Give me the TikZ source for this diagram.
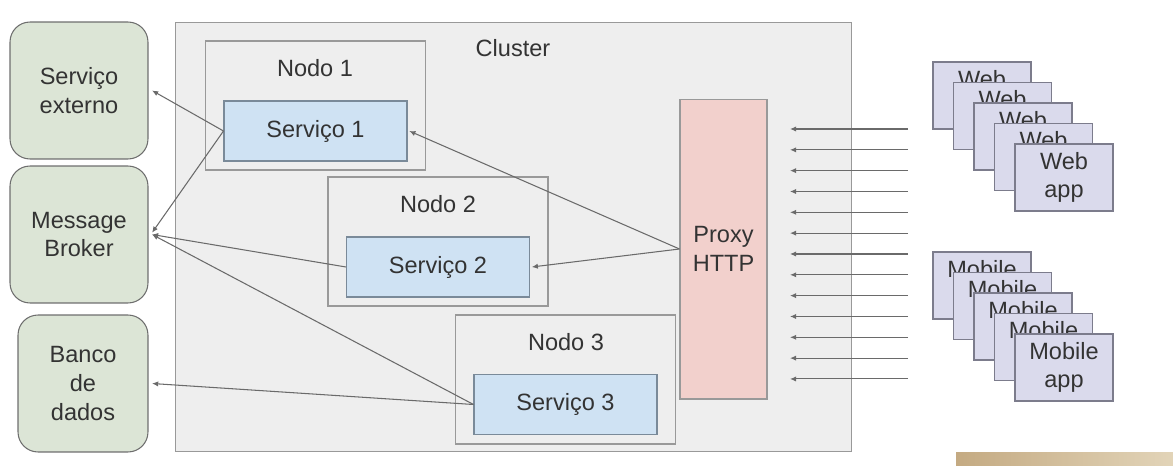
\documentclass[tikz,border=0pt]{standalone}
\usepackage{fontspec}
\setmainfont{Liberation Sans}
\usetikzlibrary{arrows.meta}
\definecolor{clustergray}{HTML}{EEEEEE}
\definecolor{framegray}{HTML}{999999}
\definecolor{servblue}{HTML}{CFE2F3}
\definecolor{servframe}{HTML}{7A8A99}
\definecolor{extgreen}{HTML}{DCE5D6}
\definecolor{extframe}{HTML}{6E6E6E}
\definecolor{proxyred}{HTML}{F2D0CC}
\definecolor{applav}{HTML}{DADAEC}
\definecolor{appframe}{HTML}{7C7C8C}
\definecolor{linkgray}{HTML}{6A6A6A}
\definecolor{textgray}{HTML}{333333}
\definecolor{tanleft}{HTML}{C4AA82}
\definecolor{tanright}{HTML}{E2D4B8}

\begin{document}
\begin{tikzpicture}[
    x=0.02cm, y=-0.02cm,
    ext/.style={draw=extframe,fill=extgreen,rounded corners=0.4cm,minimum width=2.76cm,minimum height=2.74cm,align=center,line width=0.6pt},
    nodo/.style={draw=framegray,fill=clustergray,minimum width=4.4cm,minimum height=2.58cm,line width=0.6pt},
    serv/.style={draw=servframe,fill=servblue,minimum width=3.66cm,minimum height=1.2cm,line width=0.6pt},
    app/.style={draw=appframe,fill=applav,minimum width=1.96cm,minimum height=1.34cm,align=center,line width=0.6pt},
    link/.style={draw=linkgray,line width=0.6pt,-{Latex[length=3.5pt,width=3pt]}},
    font=\fontsize{13.4}{16.4}\selectfont, text=textgray
  ]

  \useasboundingbox (0,0) rectangle (1173,466);

  % cluster
  \node[draw=framegray,fill=clustergray,minimum width=13.54cm,minimum height=8.59cm,line width=0.6pt] (cluster) at (513.5,236.75) {};
  \node (clusterlbl) at (513,48) {Cluster};

  \node[nodo] (nodo1) at (315.5,105.5) {};
  \node (nodo1lbl) at (315,68) {Nodo 1};
  \node[serv] (serv1) at (315.5,131) {Serviço 1};

  \node[nodo] (nodo2) at (438,241.5) {};
  \node (nodo2lbl) at (438,204) {Nodo 2};
  \node[serv] (serv2) at (438,267) {Serviço 2};

  \node[nodo] (nodo3) at (565.5,379.5) {};
  \node (nodo3lbl) at (566,342) {Nodo 3};
  \node[serv] (serv3) at (565.5,404.5) {Serviço 3};

  \node[draw=framegray,fill=proxyred,minimum width=1.74cm,minimum height=6cm,align=center,line width=0.6pt] (proxy) at (723.5,249) {Proxy\\HTTP};

  % outside
  \node[ext] (externo) at (79,90.5) {Serviço\\externo};
  \node[ext] (broker) at (79,234.5) {Message\\Broker};
  \node[ext,minimum width=2.6cm] (banco) at (83,383.5) {Banco\\de\\dados};

  \draw[link] (serv1.west) -- ([xshift=2pt]externo.east);
  \draw[link] (serv1.west) -- ([xshift=2pt,yshift=1pt]broker.east);
  \draw[link] (serv2.west) -- ([xshift=2pt]broker.east);
  \draw[link] (serv3.west) -- ([xshift=2pt]broker.east);
  \draw[link] (serv3.west) -- ([xshift=2pt]banco.east);
  \draw[link] (proxy.west) -- ([xshift=1pt]serv1.east);
  \draw[link] (proxy.west) -- ([xshift=1pt]serv2.east);

  % requests
  \foreach \i in {0,...,12} {
    \coordinate (req\i) at (908,129+\i*20.83);
    \coordinate (hit\i) at (790,129+\i*20.83);
    \draw[link] (req\i) -- (hit\i);
  }

  \foreach \i in {0,...,4} {
    \node[app] (web\i) at (982+\i*20.5,95.5+\i*20.5) {Web\\app};
  }
  \foreach \i in {0,...,4} {
    \node[app] (mobile\i) at (982+\i*20.5,285.5+\i*20.5) {Mobile\\app};
  }

  \shade[left color=tanleft,right color=tanright] (956,452) rectangle (1173,466);

\end{tikzpicture}
\end{document}
